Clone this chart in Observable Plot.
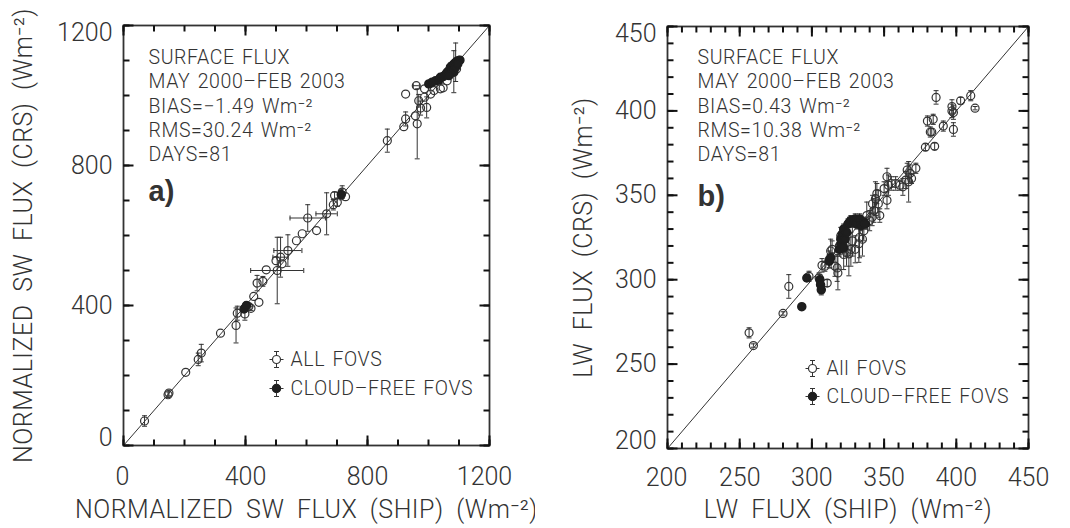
<!DOCTYPE html>
<html><head><meta charset="utf-8">
<script src="https://cdn.jsdelivr.net/npm/d3@7"></script>
<script src="https://cdn.jsdelivr.net/npm/@observablehq/plot@0.6"></script>
<style>
html,body{margin:0;padding:0;background:#fff;}
#wrap{position:relative;width:1070px;height:528px;overflow:hidden;background:#fff;}
#wrap svg{position:absolute;top:0;}
g[aria-description="axis-title"] text{letter-spacing:0.5px;word-spacing:6px;}
g[aria-description="info"] text{letter-spacing:0.6px;word-spacing:2px;}
</style></head>
<body><div id="wrap"></div>
<script>
// ---------- Panel a: normalized SW flux ----------
const swDomain = [0, 1200];
const swMajor = [0, 400, 800, 1200];
const swMinorStep = 100;
const swAllShip = [69,146,149,204,245,255,318,369,373,398,411,418,427,444,438,457,468,504,500,515,520,539,567,586,604,633,666,688,692,701,717,728,865,919,925,925,960,963,968,957,974,994,987,987,1007,1018,1039,1048,1061,1083,1092];
const swAllCrs  = [70,145,150,209,246,264,321,343,378,376,397,392,426,409,464,469,502,500,528,538,519,557,585,605,650,614,662,688,714,695,724,711,871,911,933,1004,1028,919,985,942,964,966,995,1019,1004,1014,1019,1022,1042,1066,1076];
const swAllErrShip = [0,0,0,0,0,0,0,0,0,0,0,0,0,0,0,0,0,87,0,25,0,46,0,0,58,0,35,0,0,0,0,0,0,0,0,0,10,0,0,0,0,0,0,0,0,0,0,0,0,0,0];
const swAllErrCrs  = [15,8,8,0,18,25,0,50,20,18,8,6,0,0,22,14,0,95,0,57,0,45,0,0,38,0,60,15,10,12,18,0,33,0,20,0,0,100,18,0,20,30,0,0,0,0,0,0,0,0,0];
const swClrShip = [395,403,714,1001,1012,1023,1034,1039,1048,1056,1061,1067,1072,1078,1083,1083,1089,1094,1100,1103,1078,1067,1089,1096];
const swClrCrs  = [390,400,717,1033,1038,1042,1044,1052,1054,1060,1066,1071,1081,1085,1068,1090,1095,1098,1100,1101,1071,1057,1081,1090];
const swClrErr  = [10,8,15,0,8,0,10,0,8,0,10,0,12,0,60,0,55,0,10,0,0,0,0,0];

// ---------- Panel b: LW flux ----------
const lwDomain = [200, 450];
const lwMajor = [200, 250, 300, 350, 400, 450];
const lwMinorStep = 10;
const lwAllShip = [256.5,259.5,280,284,298,305,310.6,307,309,312,313,314,316,317.5,318,319,320,322,324,325.6,327,328,330,332.5,333,335,336,338,340,341.7,342,343,344,345,346,347,350,352,352,353,355,358,361,363,365,366,367,368,369,372,378.6,380,382,383,384,385,386,391,397,398,397,398,403,410,413];
const lwAllCrs  = [268.5,261,280,296,302,301,298,308.5,308,312,317,318,308,307,304,320,326,315,316,315.3,318,323,318,321.3,325,324,329,338,335,337,345,341,348,351,345,338,354,347,361,356,357,357,356,355,359,365,358,363,360,366,378.5,394,387.5,387.5,395,379,408,391,402.6,399,400,389,406,409,401.6];
const lwAllErr  = [3,1,1,7,3,3,2,4,3,5,7,5,6,8,10,6,5,9,8,13,10,9,8,11,12,10,6,8,6,5,5,7,10,6,8,4,4,5,5,6,4,4,3,5,5,4,12,5,3,3,2,3,3,2,3,2,4,3,4,4,4,4,2,3,1];
const lwClrShip = [293,296.5,305.5,306,306.5,312,313,319,320,320,321,322,322,323,324,325,326,327,329,330,331,333,334,336,337];
const lwClrCrs  = [284,301,300,297,294,311,313,318,321,324,327,319,330,324,328,333,334,335,334,336,333,336,332,334,333];
const lwClrErr  = [1,2,3,3,3,4,3,3,3,4,3,3,3,3,3,3,3,3,3,3,3,3,3,3,3];

// ---------- Texts ----------
const infoA = ["SURFACE FLUX", "MAY 2000\u2013FEB 2003", "BIAS=\u22121.49 Wm\u207B\u00B2", "RMS=30.24 Wm\u207B\u00B2", "DAYS=81"];
const infoB = ["SURFACE FLUX", "MAY 2000\u2013FEB 2003", "BIAS=0.43 Wm\u207B\u00B2", "RMS=10.38 Wm\u207B\u00B2", "DAYS=81"];
const legendA = ["ALL FOVS", "CLOUD\u2013FREE FOVS"];
const legendB = ["All FOVS", "CLOUD\u2013FREE FOVS"];

const ink = "#333";
const tickInk = "#111";
const capH = {draw(c){c.moveTo(-2.5,0);c.lineTo(2.5,0);}};
const capV = {draw(c){c.moveTo(0,-2.5);c.lineTo(0,2.5);}};
const whisker = {draw(c){
  c.moveTo(0,-4);c.lineTo(0,-8);c.moveTo(-2.5,-8);c.lineTo(2.5,-8);
  c.moveTo(0,4);c.lineTo(0,8);c.moveTo(-2.5,8);c.lineTo(2.5,8);
  c.moveTo(-4,0);c.lineTo(-7,0);c.moveTo(4,0);c.lineTo(7,0);
}};
// inward tick glyph: a short segment starting at the anchor point on the frame
const seg = (dx, dy) => ({draw(c){c.moveTo(0,0);c.lineTo(dx,dy);}});

function rows(xs, ys, exs, eys){ return xs.map((x,i)=>({x, y: ys[i], ex: exs ? exs[i] : 0, ey: eys[i]})); }

function panel(o){
  const [d0, d1] = o.domain;
  const minor = d3.range(d0, d1 + 1e-9, o.minorStep);
  const inner = o.major.slice(1, -1);
  const all = o.all, clr = o.clr;
  const yE = all.concat(clr).filter(d => d.ey > 0);
  const xE = all.filter(d => d.ex > 0);
  const fmt = d => String(d);
  const tickMarks = (vals, len, sw) => [
    Plot.dot(vals, {x: d => d, y: () => d0, symbol: seg(0, -len), stroke: tickInk, strokeWidth: sw}),
    Plot.dot(vals, {x: d => d, y: () => d1, symbol: seg(0, len), stroke: tickInk, strokeWidth: sw}),
    Plot.dot(vals, {y: d => d, x: () => d0, symbol: seg(len, 0), stroke: tickInk, strokeWidth: sw}),
    Plot.dot(vals, {y: d => d, x: () => d1, symbol: seg(-len, 0), stroke: tickInk, strokeWidth: sw})
  ];
  const marks = [
    Plot.line(o.domain.map(v => [v, v]), {stroke: ink, strokeWidth: 1}),
    Plot.ruleX(yE, {x: "x", y1: d => d.y - d.ey, y2: d => d.y + d.ey, stroke: ink, strokeWidth: 1}),
    Plot.dot(yE, {x: "x", y: d => d.y + d.ey, symbol: capH, stroke: ink, strokeWidth: 1}),
    Plot.dot(yE, {x: "x", y: d => d.y - d.ey, symbol: capH, stroke: ink, strokeWidth: 1}),
    Plot.ruleY(xE, {y: "y", x1: d => d.x - d.ex, x2: d => d.x + d.ex, stroke: ink, strokeWidth: 1}),
    Plot.dot(xE, {y: "y", x: d => d.x + d.ex, symbol: capV, stroke: ink, strokeWidth: 1}),
    Plot.dot(xE, {y: "y", x: d => d.x - d.ex, symbol: capV, stroke: ink, strokeWidth: 1}),
    Plot.dot(all, {x: "x", y: "y", r: 4, stroke: ink, strokeWidth: 1.2, fill: "none"}),
    Plot.dot(clr, {x: "x", y: "y", r: 4, fill: "#1e1e1e", stroke: "#1e1e1e"}),
    Plot.frame({stroke: ink, strokeWidth: 1.8}),
    ...tickMarks(o.major, 10, 2),
    ...tickMarks(minor, 6, 2),
    Plot.axisX({ticks: inner, tickSize: 0, tickPadding: o.xPad, tickFormat: fmt, fontSize: 25, label: null}),
    Plot.axisX({ticks: [d0], tickSize: 0, tickPadding: o.xPad, tickFormat: fmt, fontSize: 25, label: null, dx: -1}),
    Plot.axisX({ticks: [d1], tickSize: 0, tickPadding: o.xPad, tickFormat: fmt, fontSize: 25, label: null, dx: o.xEndDx}),
    Plot.axisY({ticks: inner, tickSize: 0, tickPadding: 11, tickFormat: fmt, fontSize: 25, label: null}),
    Plot.axisY({ticks: [d1], tickSize: 0, tickPadding: 11, tickFormat: fmt, fontSize: 25, label: null, dy: 7}),
    Plot.axisY({ticks: [d0], tickSize: 0, tickPadding: 11, tickFormat: fmt, fontSize: 25, label: null, dy: -8}),
    Plot.text([o.xTitle], {text: d => d, frameAnchor: "bottom", dy: o.xTitleDy, fontSize: 25, textAnchor: "middle", lineAnchor: "middle", ariaDescription: "axis-title"}),
    Plot.text([o.yTitle], {text: d => d, frameAnchor: "left", dx: o.yTitleDx, rotate: -90, fontSize: 25, textAnchor: "middle", lineAnchor: "middle", ariaDescription: "axis-title"}),
    Plot.text([o.info.join("\n")], {text: d => d, frameAnchor: "top-left", dx: o.infoDx, dy: o.infoDy, fontSize: 19.5, lineHeight: 1.25, textAnchor: "start", lineAnchor: "top", ariaDescription: "info"}),
    Plot.text([o.tag], {text: d => d, frameAnchor: "top-left", dx: o.infoDx, dy: o.tagDy, fontSize: 29, fontWeight: "bold", textAnchor: "start", lineAnchor: "middle", fontFamily: "Liberation Sans, Arial, sans-serif"}),
    // legend
    Plot.dot([0], {frameAnchor: "top-left", dx: o.legDx, dy: o.legDy[0], r: 4, stroke: ink, strokeWidth: 1.2, fill: "none"}),
    Plot.dot([0], {frameAnchor: "top-left", dx: o.legDx, dy: o.legDy[0], symbol: whisker, stroke: ink, strokeWidth: 1}),
    Plot.dot([0], {frameAnchor: "top-left", dx: o.legDx, dy: o.legDy[1], r: 4, fill: "#1e1e1e", stroke: "#1e1e1e"}),
    Plot.dot([0], {frameAnchor: "top-left", dx: o.legDx, dy: o.legDy[1], symbol: whisker, stroke: ink, strokeWidth: 1}),
    Plot.text([o.legend[0]], {text: d => d, frameAnchor: "top-left", dx: o.legDx + 14, dy: o.legDy[0], fontSize: 19.5, textAnchor: "start", lineAnchor: "middle", ariaDescription: "info"}),
    Plot.text([o.legend[1]], {text: d => d, frameAnchor: "top-left", dx: o.legDx + 14, dy: o.legDy[1], fontSize: 19.5, textAnchor: "start", lineAnchor: "middle", ariaDescription: "info"})
  ];
  const svg = Plot.plot({
    width: o.width, height: o.height,
    marginLeft: o.ml, marginRight: o.mr, marginTop: o.mt, marginBottom: o.mb,
    x: {domain: o.domain},
    y: {domain: o.domain},
    style: {fontFamily: "Roboto, sans-serif", fontWeight: 300, color: ink, background: "white", overflow: "visible"},
    marks
  });
  svg.style.left = o.left + "px";
  return svg;
}

const wrap = document.getElementById("wrap");
wrap.appendChild(panel({
  left: 0, width: 530, height: 528, ml: 123, mr: 41, mt: 25, mb: 83,
  domain: swDomain, major: swMajor, minorStep: swMinorStep,
  all: rows(swAllShip, swAllCrs, swAllErrShip, swAllErrCrs),
  clr: rows(swClrShip, swClrCrs, null, swClrErr),
  xPad: 22, xEndDx: -5, xTitle: "NORMALIZED SW FLUX (SHIP) (Wm\u207B\u00B2)", xTitleDy: 64,
  yTitle: "NORMALIZED SW FLUX (CRS) (Wm\u207B\u00B2)", yTitleDx: -100,
  info: infoA, infoDx: 25, infoDy: 21, tag: "a)", tagDy: 166,
  legend: legendA, legDx: 153, legDy: [334, 363]
}));
wrap.appendChild(panel({
  left: 535, width: 535, height: 528, ml: 132, mr: 42, mt: 26, mb: 80,
  domain: lwDomain, major: lwMajor, minorStep: lwMinorStep,
  all: rows(lwAllShip, lwAllCrs, null, lwAllErr),
  clr: rows(lwClrShip, lwClrCrs, null, lwClrErr),
  xPad: 20, xEndDx: 0, xTitle: "LW FLUX (SHIP) (Wm\u207B\u00B2)", xTitleDy: 61,
  yTitle: "LW FLUX (CRS) (Wm\u207B\u00B2)", yTitleDx: -84,
  info: infoB, infoDx: 30, infoDy: 20, tag: "b)", tagDy: 170,
  legend: legendB, legDx: 145, legDy: [342, 370]
}));
</script></body></html>
